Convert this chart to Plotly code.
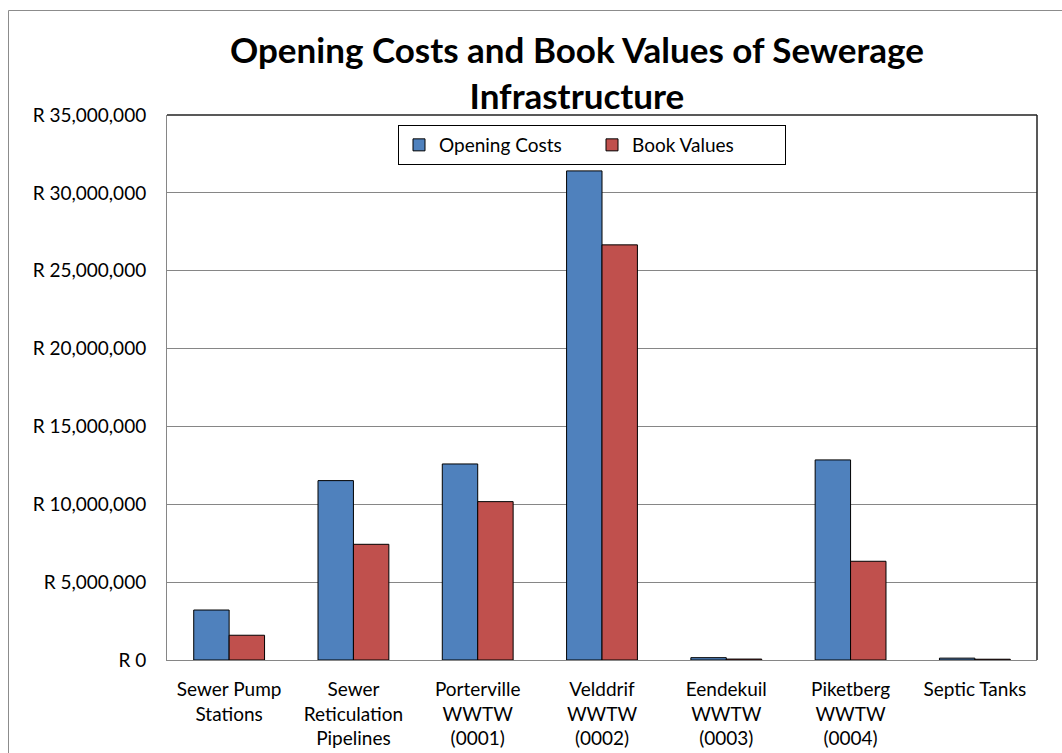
import plotly.graph_objects as go

# Sewerage infrastructure categories and their values (Rand)
categories = [
    "Sewer Pump<br>Stations",
    "Sewer<br>Reticulation<br>Pipelines",
    "Porterville<br>WWTW<br>(0001)",
    "Velddrif<br>WWTW<br>(0002)",
    "Eendekuil<br>WWTW<br>(0003)",
    "Piketberg<br>WWTW<br>(0004)",
    "Septic Tanks",
]
opening_costs = [3210000, 11520000, 12590000, 31410000, 150000, 12850000, 120000]
book_values = [1590000, 7430000, 10170000, 26660000, 60000, 6340000, 50000]

y_ticks = [0, 5000000, 10000000, 15000000, 20000000, 25000000, 30000000, 35000000]
y_tick_text = [f"R {v:,}" for v in y_ticks]

FONT = "Lato, Calibri, Carlito, sans-serif"
GRID = "#868686"

fig = go.Figure()
fig.add_trace(go.Bar(
    name="Opening Costs", x=categories, y=opening_costs,
    marker=dict(color="#4F81BD", line=dict(color="#000000", width=1)),
))
fig.add_trace(go.Bar(
    name="Book Values", x=categories, y=book_values,
    marker=dict(color="#C0504D", line=dict(color="#000000", width=1)),
))

L, R, T, B = 167, 25, 115, 93
W, H = 1062, 753
pw, ph = W - L - R, H - T - B

def px_x(x):
    return (x - L) / pw

def px_y(y):
    return 1 - (y - T) / ph

fig.update_layout(
    width=W, height=H,
    margin=dict(l=L, r=R, t=T, b=B, autoexpand=False),
    paper_bgcolor="white", plot_bgcolor="white",
    font=dict(family=FONT, size=19, color="#000000"),
    barmode="group", bargap=0.43, bargroupgap=0,
    showlegend=True,
    legend=dict(
        orientation="h", x=px_x(592), xanchor="center", y=px_y(125), yanchor="top",
        bordercolor="#000000", borderwidth=1, bgcolor="white",
        font=dict(family=FONT, size=19), entrywidth=148, entrywidthmode="pixels",
        itemwidth=30, tracegroupgap=0,
    ),
    xaxis=dict(
        showline=True, linecolor=GRID, linewidth=1, ticks="",
        tickfont=dict(family=FONT, size=19), showgrid=False,
        ticklabelstandoff=12,
    ),
    yaxis=dict(
        range=[0, 35000000], tickvals=y_ticks, ticktext=y_tick_text,
        showgrid=True, gridcolor=GRID, gridwidth=1, zeroline=False,
        showline=True, linecolor=GRID, linewidth=1, ticks="",
        tickfont=dict(family=FONT, size=19), ticklabelstandoff=16,
    ),
    annotations=[dict(
        text="<b>Opening Costs and Book Values of Sewerage<br>Infrastructure</b>",
        x=px_x(577), y=px_y(72), xref="paper", yref="paper",
        xanchor="center", yanchor="middle", showarrow=False,
        font=dict(family=FONT, size=35, color="#000000"),
    )],
    shapes=[
        # plot-area frame (top and right edges)
        dict(type="line", xref="paper", yref="paper", x0=0, x1=1, y0=1, y1=1,
             line=dict(color="#222222", width=1.5)),
        dict(type="line", xref="paper", yref="paper", x0=1, x1=1, y0=0, y1=1,
             line=dict(color="#222222", width=1.5)),
        # outer chart border
        dict(type="rect", xref="paper", yref="paper",
             x0=px_x(8.5), x1=px_x(1070), y0=px_y(10.5), y1=px_y(760),
             line=dict(color="#8c8c8c", width=1), layer="below"),
    ],
)

fig.write_html("out.html")
